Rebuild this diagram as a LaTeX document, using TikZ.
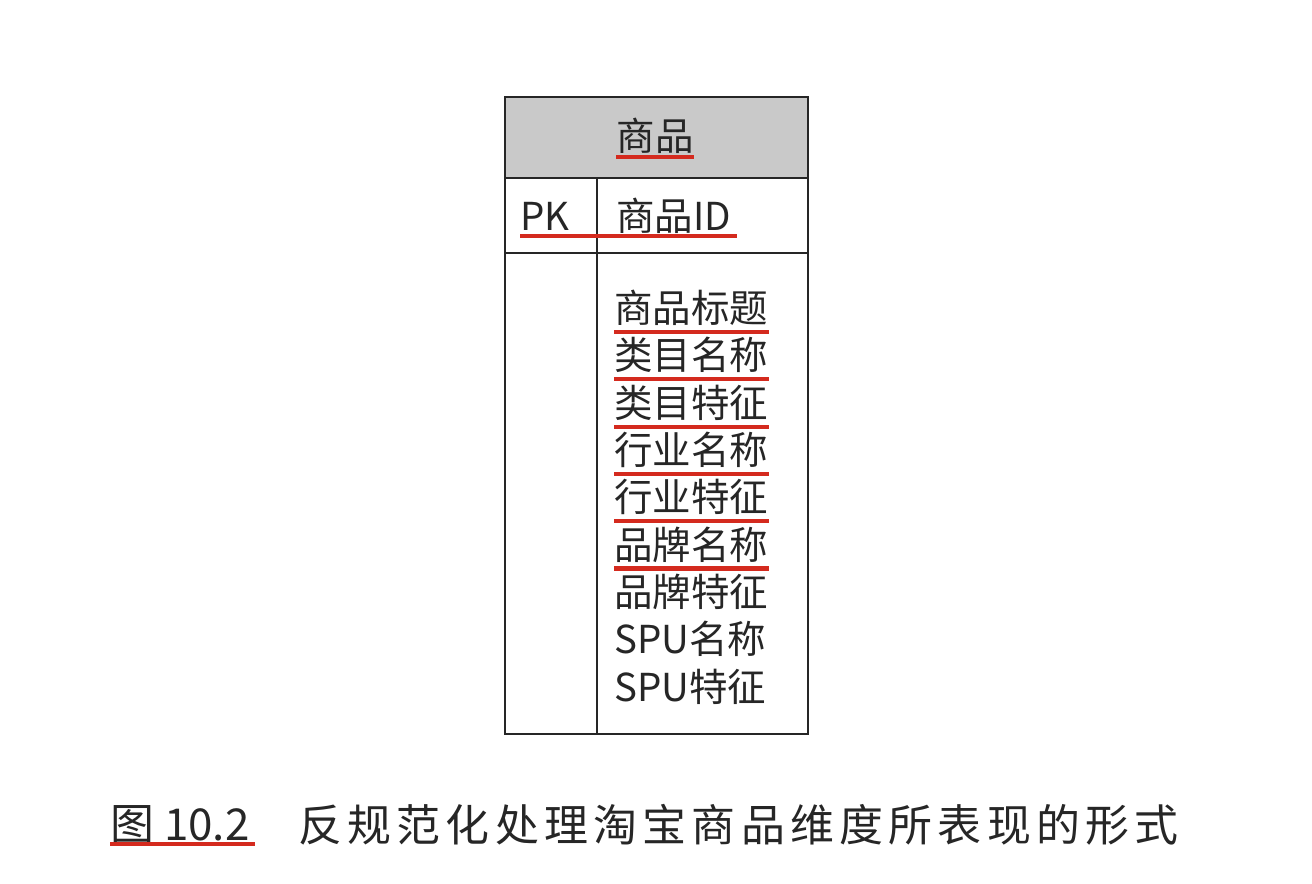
\documentclass[tikz,border=0pt]{standalone}
\usepackage{fontspec}
\setmainfont{Noto Sans CJK SC}
\usetikzlibrary{calc}
\definecolor{hdr}{HTML}{C9C9C9}
\definecolor{ink}{HTML}{262626}
\definecolor{mark}{HTML}{D42A1E}
\tikzset{
  tbl/.style={draw=ink, line width=1.1pt},
  hdrfill/.style={fill=hdr, draw=none},
  lab/.style={text=ink, inner sep=0pt, font=\fontsize{21.9}{24}\selectfont},
  caplab/.style={text=ink, inner sep=0pt, font=\fontsize{25}{28}\selectfont},
  redline/.style={draw=mark, line width=2.3pt}
}
\begin{document}
\begin{tikzpicture}[x=0.02cm, y=-0.02cm]
  \useasboundingbox[fill=white] (0,0) rectangle (1312,884);

  % table frame
  \fill[hdrfill] (505,97) rectangle (808,178);
  \draw[tbl] (505,97) rectangle (808,734);
  \draw[tbl] (505,178) -- (808,178);
  \draw[tbl] (505,253) -- (808,253);
  \draw[tbl] (597,178) -- (597,734);

  \node[lab] (title) at (655,136) {商品};
  \draw[redline] ($(title.west)+(0,21)$) -- ($(title.east)+(0,21)$);

  \node[lab, anchor=west] (pk) at (520,216) {PK};
  \node[lab, anchor=west] (pkid) at (616,216) {商品ID};
  \draw[redline] ($(pk.west)+(0,20)$) -- ($(pkid.east)+(6,20)$);

  % fields
  \foreach \txt [count=\i from 0] in {商品标题,类目名称,类目特征,行业名称,行业特征,品牌名称,品牌特征,SPU名称,SPU特征}
    \node[lab, anchor=west] (f\i) at (614,{308+47.3*\i}) {\txt};
  \foreach \i in {0,...,5}
    \draw[redline] ($(f\i.west)+(0,24)$) -- ($(f\i.east)+(0,24)$);

  % caption
  \node[caplab, anchor=west] (fignum) at (110,825) {图 10.2};
  \draw[redline] ($(fignum.west)+(0,19)$) -- ($(fignum.east)+(5,19)$);
  \node[caplab, anchor=west] (figtxt) at (298,825)
    {\addfontfeature{LetterSpace=12}反规范化处理淘宝商品维度所表现的形式};
\end{tikzpicture}
\end{document}
